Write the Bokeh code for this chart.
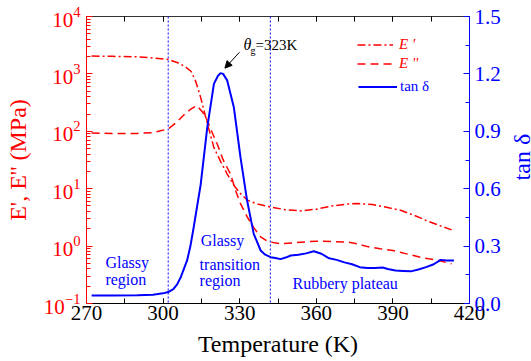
import math
from bokeh.plotting import figure
from bokeh.layouts import row
from bokeh.models import (Range1d, LinearAxis, SingleIntervalTicker, Span, Label, Arrow,
                          NormalHead, Legend, LegendItem, PrintfTickFormatter, LinearScale)
from bokeh.embed import file_html
from bokeh.resources import INLINE

# ---------------- data ----------------
T_E1 = [272, 280, 290, 296, 302, 306, 309, 311, 312.7, 314.7, 317.3, 319.9, 322.5, 325.1, 327.7,
        330.3, 333, 337, 342, 348, 354, 360, 366, 372, 376, 382, 388, 393, 398, 403, 408, 413]
E_storage = [2050, 2020, 1980, 1900, 1780, 1550, 1300, 1100, 760, 390, 138, 52, 30, 18, 11.5,
             8.2, 6.3, 5.4, 4.8, 4.3, 4.1, 4.4, 5.0, 5.4, 5.5, 5.3, 4.7, 4.2, 3.5, 2.8, 2.3, 1.92]

T_E2 = [272, 280, 290, 296, 302, 305, 308, 310.7, 313.2, 315.5, 317.3, 319, 321.2, 323.5, 326.4,
        328.5, 330.3, 333, 335.5, 338.2, 341, 346, 352, 360, 366, 372, 376, 380, 385, 390, 395,
        400, 404, 408, 413]
E_loss = [93, 92, 92, 95, 110, 140, 190, 240, 280, 215, 155, 100, 60, 32, 18,
          9, 5.5, 3.2, 2.1, 1.45, 1.2, 1.1, 1.15, 1.22, 1.2, 1.18, 1.1, 0.98, 0.9, 0.84, 0.74,
          0.65, 0.6, 0.56, 0.49]

T_tan = [272, 280, 290, 296, 300, 302, 304, 305.5, 307, 309.4, 310.7, 312, 314.7, 317.3, 319.9,
         321.5, 322.5, 323.5, 325.1, 327.7, 330.3, 332.9, 335.5, 338.2, 340, 342.1, 344, 346, 348,
         350, 353, 356, 359, 362, 365, 368, 371, 374, 377, 380, 383, 386, 388, 391, 394, 397,
         400, 403, 406, 408.7, 411, 413.9]
tan_delta = [0.042, 0.042, 0.043, 0.046, 0.053, 0.06, 0.075, 0.10, 0.14, 0.225, 0.30, 0.40, 0.62,
             0.92, 1.148, 1.19, 1.204, 1.20, 1.166, 1.026, 0.765, 0.538, 0.364, 0.277, 0.255,
             0.242, 0.238, 0.232, 0.24, 0.251, 0.255, 0.262, 0.273, 0.26, 0.236, 0.228, 0.215,
             0.205, 0.19, 0.185, 0.185, 0.188, 0.18, 0.172, 0.17, 0.168, 0.178, 0.19, 0.205,
             0.228, 0.225, 0.225]

region_bounds = [302, 342]
Tg = 323
x_ticks_interval = 30
tan_ticks_interval = 0.3

FONT = "Liberation Serif"
RED = "#ff0000"
BLUE = "#0000ff"

p = figure(width=511, height=361, x_range=Range1d(270, 420), y_range=Range1d(0.1, 1e4),
           y_axis_type="log", output_backend="svg", toolbar_location=None,
           min_border_left=86, min_border_right=42, min_border_top=16, min_border_bottom=58)
p.outline_line_color = None
p.xgrid.visible = False
p.ygrid.visible = False
p.background_fill_color = "white"
p.border_fill_color = "white"

p.extra_y_ranges = {"tan": Range1d(0, 1.5)}
p.extra_y_scales = {"tan": LinearScale()}

# bottom axis
xa = p.xaxis[0]
xa.ticker = SingleIntervalTicker(interval=x_ticks_interval, num_minor_ticks=2)
xa.axis_label = "Temperature (K)"
xa.axis_label_text_font = FONT
xa.axis_label_text_font_size = "24px"
xa.axis_label_text_font_style = "normal"
xa.axis_label_text_color = "black"
xa.axis_label_standoff = 8
xa.major_label_text_font = FONT
xa.major_label_text_font_size = "21px"
xa.major_label_text_color = "black"
xa.major_label_standoff = 2
xa.major_tick_in = 5
xa.major_tick_out = 0
xa.minor_tick_in = 5
xa.minor_tick_out = 0
xa.axis_line_color = "black"
xa.major_tick_line_color = "black"
xa.minor_tick_line_color = "black"

# top axis (ticks only)
ta = LinearAxis(ticker=SingleIntervalTicker(interval=x_ticks_interval, num_minor_ticks=2),
                formatter=PrintfTickFormatter(format=""))
ta.major_label_standoff = 0
ta.major_tick_in = 5
ta.major_tick_out = 0
ta.minor_tick_in = 5
ta.minor_tick_out = 0
ta.axis_line_color = "#333333"
p.add_layout(ta, "above")

# left axis
ya = p.yaxis[0]
ya.axis_label = "E', E'' (MPa)"
ya.axis_label_text_font = FONT
ya.axis_label_text_font_size = "24px"
ya.axis_label_text_font_style = "normal"
ya.axis_label_text_color = RED
ya.axis_label_standoff = 10
ya.major_label_text_font = FONT
ya.major_label_text_font_size = "21px"
ya.major_label_text_color = RED
ya.major_label_standoff = 6
ya.major_tick_in = 6
ya.major_tick_out = 0
ya.minor_tick_in = 4
ya.minor_tick_out = 0
ya.axis_line_color = RED
ya.major_tick_line_color = RED
ya.minor_tick_line_color = RED

# right axis
ra = LinearAxis(y_range_name="tan",
                ticker=SingleIntervalTicker(interval=tan_ticks_interval, num_minor_ticks=2),
                formatter=PrintfTickFormatter(format="%.1f"))
ra.major_label_text_font = FONT
ra.major_label_text_font_size = "21px"
ra.major_label_text_color = BLUE
ra.major_label_standoff = 5
ra.major_tick_in = 6
ra.major_tick_out = 0
ra.minor_tick_in = 4
ra.minor_tick_out = 0
ra.axis_line_color = BLUE
ra.major_tick_line_color = BLUE
ra.minor_tick_line_color = BLUE
p.add_layout(ra, "right")

# region boundaries
for b in region_bounds:
    p.add_layout(Span(location=b, dimension="height", line_color=BLUE, line_width=1,
                      line_dash="2 2"))

# curves
r1 = p.line(T_E1, E_storage, line_color=RED, line_width=1.5, line_dash="8 3 2 3")
r2 = p.line(T_E2, E_loss, line_color=RED, line_width=1.5, line_dash="8 5")
r3 = p.line(T_tan, tan_delta, line_color=BLUE, line_width=2, y_range_name="tan")

# legends
leg1 = Legend(items=[LegendItem(label="E '", renderers=[r1]),
                     LegendItem(label="E ''", renderers=[r2])],
              location=(271, 230), orientation="vertical")
leg2 = Legend(items=[LegendItem(label="tan δ", renderers=[r3])],
              location=(272, 207), orientation="vertical")
for lg, col, style, gw, so in ((leg1, RED, "italic", 36, 6), (leg2, BLUE, "normal", 39, 3)):
    lg.padding = 0
    lg.margin = 0
    lg.spacing = 0
    lg.border_line_color = None
    lg.background_fill_alpha = 0
    lg.glyph_width = gw
    lg.glyph_height = 19
    lg.label_height = 19
    lg.label_standoff = so
    lg.label_text_font = FONT
    lg.label_text_font_size = "15px"
    lg.label_text_color = col
    lg.label_text_font_style = style
    p.add_layout(lg)

# annotation theta_g
peak = max(tan_delta)
p.add_layout(Arrow(end=NormalHead(size=7, fill_color="black", line_color="black"),
                   x_start=Tg + 6.9, y_start=peak + 0.109, x_end=Tg + 1.2, y_end=peak + 0.026,
                   line_color="black", line_width=1, y_range_name="tan"))
p.add_layout(Label(x=Tg + 8.5, y=peak + 0.15, text="θ", text_font=FONT, text_font_size="16px",
                   text_font_style="italic", text_color="black", y_range_name="tan",
                   text_baseline="alphabetic"))
p.add_layout(Label(x=Tg + 11.2, y=peak + 0.118, text="g", text_font=FONT, text_font_size="10px",
                   text_color="black", y_range_name="tan", text_baseline="alphabetic"))
p.add_layout(Label(x=Tg + 13.2, y=peak + 0.147, text=f"={Tg}K", text_font=FONT,
                   text_font_size="15px", text_color="black", y_range_name="tan",
                   text_baseline="alphabetic"))

# region labels
region_texts = [("Glassy", 277.4, 0.214), ("region", 277.4, 0.125),
                ("Glassy", 314.7, 0.329), ("transition", 314.3, 0.204), ("region", 314.3, 0.12),
                ("Rubbery plateau", 350.7, 0.104)]
for txt, tx, ty in region_texts:
    p.add_layout(Label(x=tx, y=ty, text=txt, text_font=FONT, text_font_size="16px",
                       text_color=BLUE, y_range_name="tan", text_baseline="alphabetic"))

# narrow side panel that carries the right-hand axis title (reads bottom-to-top)
p2 = figure(width=20, height=361, x_range=Range1d(0, 1), y_range=Range1d(0, 1),
            output_backend="svg", toolbar_location=None, min_border=0)
p2.axis.visible = False
p2.grid.visible = False
p2.outline_line_color = None
p2.background_fill_color = "white"
p2.border_fill_color = "white"
p2.add_layout(Label(x=0.5, y=0.51, text="tan δ", angle=math.pi / 2, text_font=FONT,
                    text_font_size="24px", text_color=BLUE, text_align="center",
                    text_baseline="middle"))

layout = row(p, p2, spacing=0)
open("out.html", "w").write(file_html(layout, INLINE))
